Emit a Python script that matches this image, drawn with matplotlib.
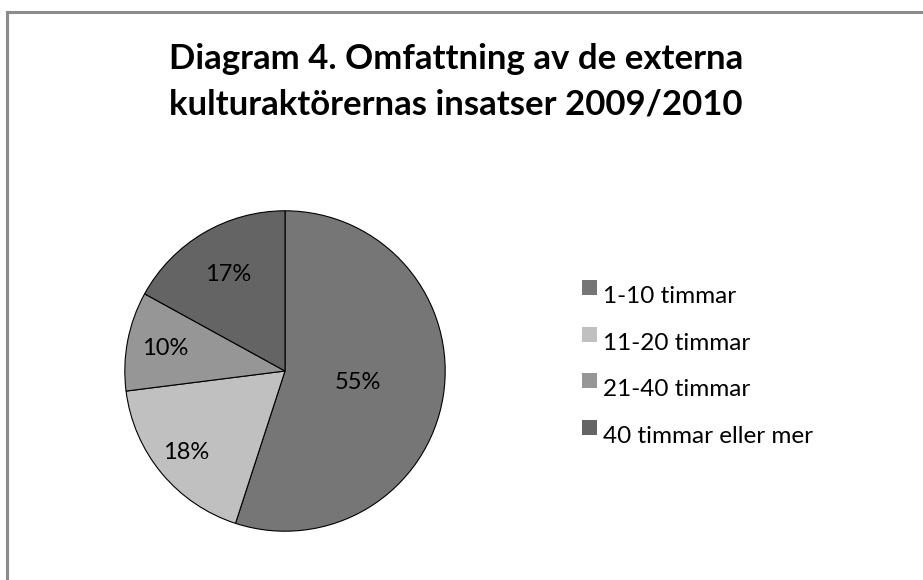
import matplotlib
matplotlib.use("Agg")
import numpy as np
import matplotlib.pyplot as plt
from matplotlib.patches import Rectangle
from matplotlib.legend_handler import HandlerPatch
from matplotlib.lines import Line2D

# data
categories = ["1-10 timmar", "11-20 timmar", "21-40 timmar", "40 timmar eller mer"]
shares = [55, 18, 10, 17]
colors = ["#767676", "#c0c0c0", "#969696", "#646464"]
label_dist = [0.46, 0.80, 0.76, 0.70]

title = "Diagram 4. Omfattning av de externa\nkulturaktörernas insatser 2009/2010"

plt.rcParams["font.family"] = ["Lato", "DejaVu Sans"]


class RaisedSquare(HandlerPatch):
    # Excel puts the legend key level with the top of the text
    def create_artists(self, legend, orig_handle, xdescent, ydescent,
                       width, height, fontsize, trans):
        s = 10.8
        p = Rectangle((width - s - xdescent, height * 0.45 - ydescent), s, s,
                      facecolor=orig_handle.get_facecolor(), edgecolor="none",
                      transform=trans)
        return [p]


fig = plt.figure(figsize=(9.23, 5.80), dpi=100)

# chart frame (only top and left edges are visible in the crop)
fig.add_artist(Line2D([7 / 923, 1.0], [1 - 12 / 580, 1 - 12 / 580],
                      color="#8c8c8c", lw=2.2, transform=fig.transFigure))
fig.add_artist(Line2D([7 / 923, 7 / 923], [0.0, 1 - 12 / 580],
                      color="#8c8c8c", lw=2.2, transform=fig.transFigure))

fig.text(456 / 923, 1 - 43 / 580, title, ha="center", va="top",
         fontsize=25, fontweight="bold", linespacing=1.5)

ax = fig.add_axes([124 / 923, 48 / 580, 322 / 923, 322 / 580])
wedges, _ = ax.pie(shares, colors=colors, startangle=90, counterclock=False,
                   wedgeprops=dict(edgecolor="black", linewidth=0.8))
ax.set_xlim(-1.005, 1.005)
ax.set_ylim(-1.005, 1.005)
ax.set_aspect("equal")

for w, v, d in zip(wedges, shares, label_dist):
    mid = np.deg2rad((w.theta1 + w.theta2) / 2)
    ax.text(d * np.cos(mid), d * np.sin(mid), f"{v}%", ha="center",
            va="center", fontsize=17)

handles = [Rectangle((0, 0), 1, 1, facecolor=c) for c in colors]
fig.legend(handles, categories, loc="upper left",
           bbox_to_anchor=(576 / 923, 1 - 286 / 580), frameon=False,
           fontsize=17.5, handlelength=0.85, handleheight=0.7,
           handletextpad=0.25, labelspacing=1.05, borderpad=0,
           borderaxespad=0, handler_map={Rectangle: RaisedSquare()})

fig.savefig("out.png", dpi=100)
